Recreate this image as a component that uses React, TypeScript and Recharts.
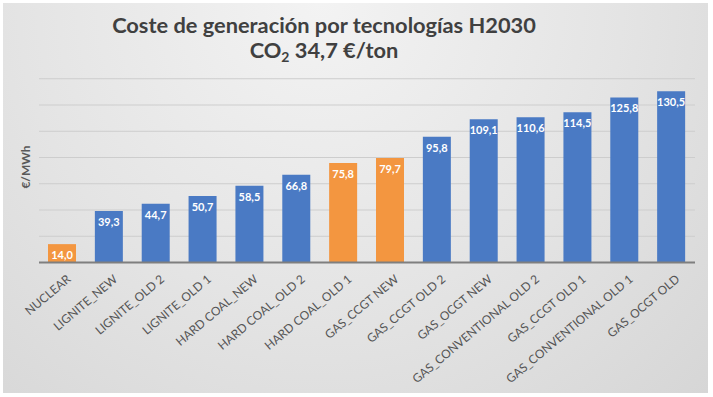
import { BarChart, Bar, XAxis, YAxis, CartesianGrid, Cell, LabelList } from "recharts";

const technologies = [
  "NUCLEAR",
  "LIGNITE_NEW",
  "LIGNITE_OLD 2",
  "LIGNITE_OLD 1",
  "HARD COAL_NEW",
  "HARD COAL_OLD 2",
  "HARD COAL_OLD 1",
  "GAS_CCGT NEW",
  "GAS_CCGT OLD 2",
  "GAS_OCGT NEW",
  "GAS_CONVENTIONAL OLD 2",
  "GAS_CCGT OLD 1",
  "GAS_CONVENTIONAL OLD 1",
  "GAS_OCGT OLD",
];

const costs = [14.0, 39.3, 44.7, 50.7, 58.5, 66.8, 75.8, 79.7, 95.8, 109.1, 110.6, 114.5, 125.8, 130.5];

const highlighted = ["NUCLEAR", "HARD COAL_OLD 1", "GAS_CCGT NEW"];

const yTicks = [0, 20, 40, 60, 80, 100, 120, 140];

const BLUE = "#4a7ac4";
const ORANGE = "#f39640";
const FONT = "Lato, 'Open Sans', sans-serif";

const chartData = technologies.map((name, i) => ({ name, cost: costs[i] }));

function TechTick(props: any) {
  const { x, y, payload } = props;
  return (
    <g transform={`translate(${x + 9},${y + 10})`}>
      <text
        x={0}
        y={0}
        textAnchor="end"
        transform="rotate(-40)"
        fill="#555555"
        fontSize={12}
        fontFamily={FONT}
      >
        {payload.value}
      </text>
    </g>
  );
}

const fmt = (v: any) => Number(v).toFixed(1).replace(".", ",");

export default function App() {
  return (
    <div style={{ position: "absolute", left: 0, top: 0, width: 713, height: 397, background: "#ffffff" }}>
      <div
        style={{
          position: "absolute",
          left: 3,
          top: 3,
          width: 705,
          height: 390,
          background: "radial-gradient(ellipse at 45% 0%, #f3f3f3 0%, #e4e4e4 55%, #d6d6d6 100%)",
        }}
      />
      <svg width={713} height={397} style={{ position: "absolute", left: 0, top: 0 }}>
        <text x={324} y={33} textAnchor="middle" fontFamily={FONT} fontWeight={700} fontSize={21.8} fill="#404040">
          Coste de generación por tecnologías H2030
        </text>
        <text x={324} y={58} textAnchor="middle" fontFamily={FONT} fontWeight={700} fontSize={21.8} fill="#404040">
          CO<tspan fontSize={14} dy={4}>2</tspan>
          <tspan dy={-4}> 34,7 €/ton</tspan>
        </text>
        <text
          x={25}
          y={167}
          textAnchor="middle"
          dominantBaseline="central"
          transform="rotate(-90, 25, 167)"
          fontFamily={FONT}
          fontWeight={700}
          fontSize={12}
          fill="#595959"
        >
          €/MWh
        </text>
      </svg>
      <div style={{ position: "absolute", left: 0, top: 0 }}>
        <BarChart
          width={713}
          height={397}
          data={chartData}
          margin={{ top: 78.75, right: 18, bottom: 34.5, left: 39 }}
          barSize={28}
        >
          <CartesianGrid vertical={false} stroke="#cdcdcd" strokeWidth={1.2} />
          <YAxis hide width={0} domain={[0, 140]} ticks={yTicks} />
          <XAxis
            dataKey="name"
            height={100}
            interval={0}
            tickLine={false}
            axisLine={{ stroke: "#7f7f7f", strokeWidth: 2 }}
            tick={<TechTick />}
          />
          <Bar dataKey="cost" isAnimationActive={false}>
            {chartData.map((d) => (
              <Cell key={d.name} fill={highlighted.includes(d.name) ? ORANGE : BLUE} />
            ))}
            <LabelList
              dataKey="cost"
              position="insideTop"
              offset={7}
              formatter={fmt}
              fill="#ffffff"
              fontSize={11}
              fontWeight={700}
              fontFamily={FONT}
            />
          </Bar>
        </BarChart>
      </div>
    </div>
  );
}
